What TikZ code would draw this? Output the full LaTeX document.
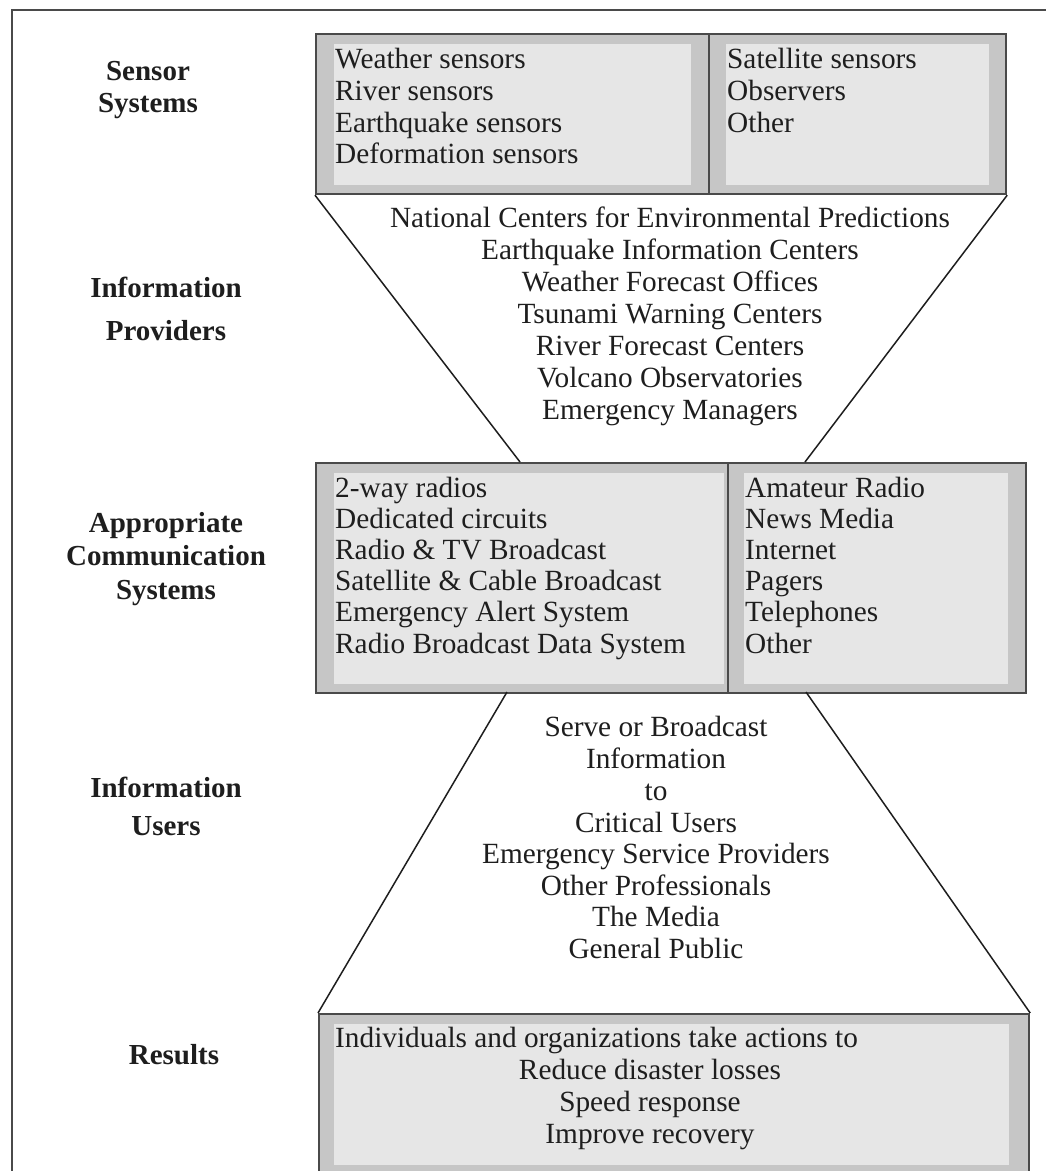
\documentclass[tikz,border=0pt]{standalone}
\usepackage{fontspec}
\setmainfont{Liberation Serif}
\definecolor{bandgray}{HTML}{C6C6C6}
\definecolor{innergray}{HTML}{E6E6E6}
\definecolor{edgegray}{HTML}{4A4A4A}
\definecolor{inkgray}{HTML}{1E1E1E}
\begin{document}
\begin{tikzpicture}[x=1pt,y=-1pt,
  bbox/.style n args={4}{rectangle, anchor=north west, inner sep=0pt,
    fill=bandgray, draw=edgegray, line width=2.2pt,
    path picture={\fill[innergray]
      ([xshift=#1pt,yshift=-#3pt]path picture bounding box.north west) rectangle
      ([xshift=-#2pt,yshift=#4pt]path picture bounding box.south east);}},
  funnel/.style={draw=inkgray, line width=1.5pt},
  frame/.style={draw=edgegray, line width=2pt},
  item/.style={anchor=base west, inner sep=0pt, text=inkgray, font=\fontsize{29.3}{32}\selectfont},
  citem/.style={anchor=base, inner sep=0pt, text=inkgray, font=\fontsize{29.3}{32}\selectfont},
  lab/.style={anchor=base, inner sep=0pt, text=inkgray, font=\fontsize{29}{32}\selectfont\bfseries}]
\useasboundingbox (0,0) rectangle (1046,1171);
\clip (0,0) rectangle (1046,1171);
\fill[white] (0,0) rectangle (1046,1171);
% outer frame
\draw[frame] (12,1190) -- (12,10) -- (1060,10);

% boxes
\node[bbox={18}{18}{10}{9}, minimum width=393pt, minimum height=160pt] (sl) at (315,33) {};
\node[bbox={17}{17}{10}{9}, minimum width=297pt, minimum height=160pt] (sr) at (708,33) {};
\node[bbox={18}{4}{10}{9}, minimum width=412pt, minimum height=230pt] (ml) at (315,462) {};
\node[bbox={16}{18}{10}{9}, minimum width=298pt, minimum height=230pt] (mr) at (727,462) {};
\node[bbox={15}{20}{10}{10}, minimum width=710pt, minimum height=161pt] (bx) at (318,1013) {};

% funnel connectors
\coordinate (pl) at (520,462);
\coordinate (pr) at (805,462);
\coordinate (ul) at (507,692);
\coordinate (ur) at (806,692);
\draw[funnel] (sl.south west) -- (pl);
\draw[funnel] (sr.south east) -- (pr);
\draw[funnel] (ul) -- (bx.north west);
\draw[funnel] (ur) -- (bx.north east);

% row labels
\node[lab] (l1a) at (148,80) {Sensor};
\node[lab] (l1b) at (148,112) {Systems};
\node[lab] (l2a) at (166,297) {Information};
\node[lab] (l2b) at (166,340) {Providers};
\node[lab] (l3a) at (166,532) {Appropriate};
\node[lab] (l3b) at (166,565) {Communication};
\node[lab] (l3c) at (166,599) {Systems};
\node[lab] (l4a) at (166,797) {Information};
\node[lab] (l4b) at (166,835) {Users};
\node[lab] (l5a) at (174,1064) {Results};

% sensor systems
\node[item] (s1) at (335,68) {Weather sensors};
\node[item] (s2) at (335,100) {River sensors};
\node[item] (s3) at (335,132) {Earthquake sensors};
\node[item] (s4) at (335,163) {Deformation sensors};
\node[item] (s5) at (727,68) {Satellite sensors};
\node[item] (s6) at (727,100) {Observers};
\node[item] (s7) at (727,132) {Other};

% information providers
\node[citem] (p1) at (670,227) {National Centers for Environmental Predictions};
\node[citem] (p2) at (670,259) {Earthquake Information Centers};
\node[citem] (p3) at (670,291) {Weather Forecast Offices};
\node[citem] (p4) at (670,323) {Tsunami Warning Centers};
\node[citem] (p5) at (670,355) {River Forecast Centers};
\node[citem] (p6) at (670,387) {Volcano Observatories};
\node[citem] (p7) at (670,419) {Emergency Managers};

% communication systems
\node[item] (c1) at (335,497) {2-way radios};
\node[item] (c2) at (335,528) {Dedicated circuits};
\node[item] (c3) at (335,559) {Radio \& TV Broadcast};
\node[item] (c4) at (335,590) {Satellite \& Cable Broadcast};
\node[item] (c5) at (335,621) {Emergency Alert System};
\node[item] (c6) at (335,653) {Radio Broadcast Data System};
\node[item] (c7) at (745,497) {Amateur Radio};
\node[item] (c8) at (745,528) {News Media};
\node[item] (c9) at (745,559) {Internet};
\node[item] (c10) at (745,590) {Pagers};
\node[item] (c11) at (745,621) {Telephones};
\node[item] (c12) at (745,653) {Other};

% information users
\node[citem] (u1) at (656,736) {Serve or Broadcast};
\node[citem] (u2) at (656,768) {Information};
\node[citem] (u3) at (656,800) {to};
\node[citem] (u4) at (656,832) {Critical Users};
\node[citem] (u5) at (656,863) {Emergency Service Providers};
\node[citem] (u6) at (656,895) {Other Professionals};
\node[citem] (u7) at (656,926) {The Media};
\node[citem] (u8) at (656,958) {General Public};

% results
\node[item] (r1) at (335,1047) {Individuals and organizations take actions to};
\node[citem] (r2) at (650,1079) {Reduce disaster losses};
\node[citem] (r3) at (650,1111) {Speed response};
\node[citem] (r4) at (650,1143) {Improve recovery};
\end{tikzpicture}
\end{document}
